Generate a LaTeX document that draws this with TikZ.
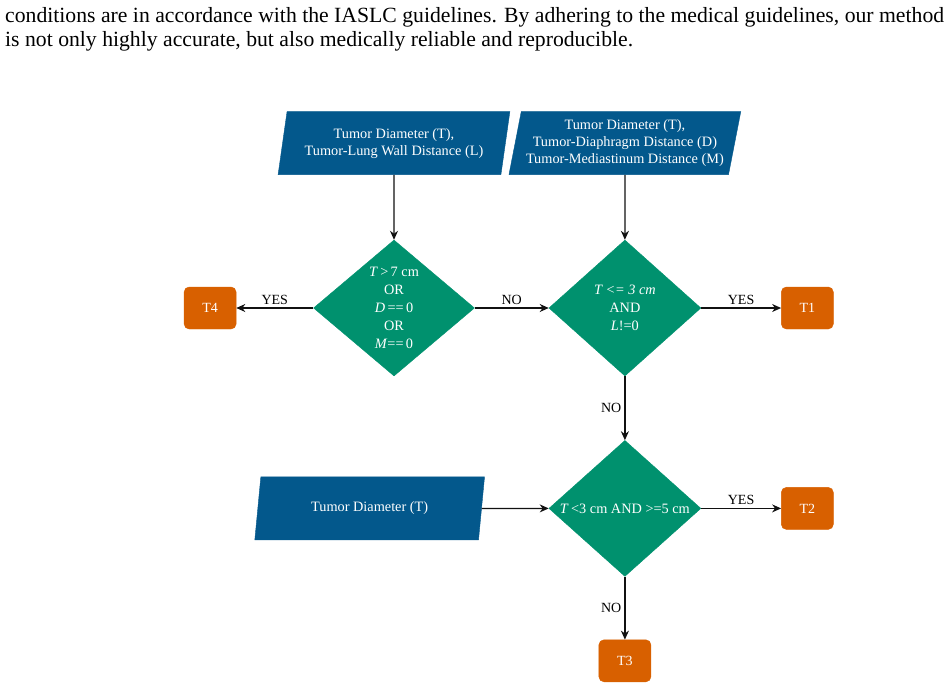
\documentclass[tikz,border=0pt]{standalone}
\usepackage{fontspec}
\setmainfont{Liberation Serif}
\usepackage{xcolor}
\definecolor{blue700}{HTML}{03588C}
\definecolor{green600}{HTML}{00916E}
\definecolor{orange600}{HTML}{D86000}
\definecolor{gray900}{HTML}{111111}
\usetikzlibrary{arrows.meta, positioning, shapes.geometric}

\begin{document}
\begin{tikzpicture}[
        x=1pt, y=-1pt,
        inputbox/.style={trapezium, trapezium left angle=76, trapezium right angle=104, trapezium stretches=true, draw=blue700, fill=blue700, text=white, minimum width=232pt, minimum height=63pt, inner sep=0pt, align=center, font=\fontsize{14.3}{17}\selectfont},
        decision/.style={diamond, draw=green600, fill=green600, text=white, minimum width=152pt, minimum height=136pt, inner sep=0pt, align=center, font=\fontsize{14.3}{18}\selectfont},
        result/.style={draw=orange600, fill=orange600, rounded corners=5pt, minimum width=52pt, minimum height=42pt, text=white, font=\fontsize{14}{16}\selectfont},
        wire/.style={-{Stealth[length=9pt, width=8pt]}, line width=1.2pt, draw=gray900},
        edgetext/.style={font=\fontsize{14}{16}\selectfont, inner sep=3pt},
        prose/.style={anchor=base west, inner sep=0pt, font=\fontsize{21.7}{24}\selectfont}
    ]
        \useasboundingbox (0,0) rectangle (949,688);

        % Text above the chart
        \node[prose] (line1) at (5,22) {conditions are in accordance with the IASLC guidelines. By adhering to the medical guidelines, our method};
        \node[prose] (line2) at (5,46) {is not only highly accurate, but also medically reliable and reproducible.};

        % Decisions
        \node[decision, minimum width=161pt] (cond1) at (394,308) {\textit{T}\,>\,7 cm\\OR\\\textit{D}\,==\,0\\OR\\\textit{M}==\,0};
        \node[decision, right=74pt of cond1] (cond2) {\textit{T <= 3 cm}\\AND\\\textit{L}!=0};
        \node[decision, below=64pt of cond2] (cond3) {\makebox[0pt]{\textit{T}\,<3 cm AND >=5 cm}};

        % Inputs
        \node[inputbox, above=65pt of cond1] (inL) {Tumor Diameter (T),\\Tumor-Lung Wall Distance (L)};
        \node[inputbox, above=65pt of cond2] (inDM) {Tumor Diameter (T),\\Tumor-Diaphragm Distance (D)\\Tumor-Mediastinum Distance (M)};
        \node[inputbox, minimum width=230pt, left=67pt of cond3] (inT) {Tumor Diameter (T)};

        % Stages
        \node[result, left=77pt of cond1] (t4) {T4};
        \node[result, right=80pt of cond2] (t1) {T1};
        \node[result, right=80pt of cond3] (t2) {T2};
        \node[result, below=63pt of cond3] (t3) {T3};

        % Flow
        \draw[wire] (inL) -- (cond1);
        \draw[wire] (inDM) -- (cond2);
        \draw[wire] (cond1) -- node[edgetext, above] {YES} (t4);
        \draw[wire] (cond1) -- node[edgetext, above] {NO} (cond2);
        \draw[wire] (cond2) -- node[edgetext, above] {YES} (t1);
        \draw[wire] (cond2) -- node[edgetext, left] {NO} (cond3);
        \draw[wire] (inT) -- (cond3);
        \draw[wire] (cond3) -- node[edgetext, above] {YES} (t2);
        \draw[wire] (cond3) -- node[edgetext, left] {NO} (t3);
    \end{tikzpicture}
\end{document}
